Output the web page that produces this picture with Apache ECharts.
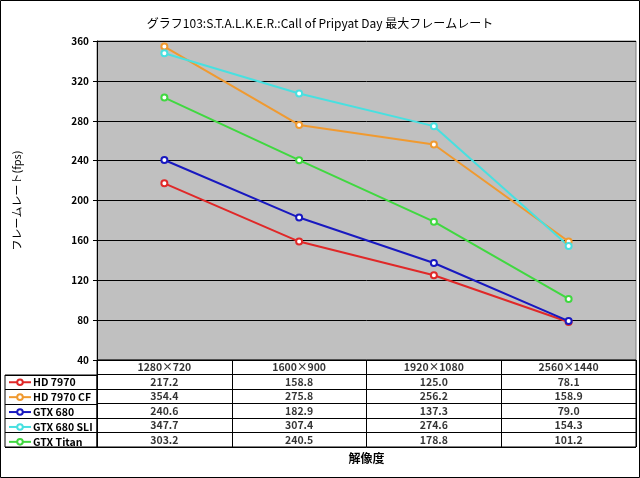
<!DOCTYPE html>
<html><head><meta charset="utf-8">
<script src="https://cdn.jsdelivr.net/npm/echarts@6/dist/echarts.min.js"></script>
<style>html,body{margin:0;padding:0;background:#fff}#c{width:640px;height:478px}</style>
</head><body><div id="c"></div>
<script>
var categories = ['1280×720', '1600×900', '1920×1080', '2560×1440'];
var seriesNames = ['HD 7970', 'HD 7970 CF', 'GTX 680', 'GTX 680 SLI', 'GTX Titan'];
var hd7970 = [217.2, 158.8, 125.0, 78.1];
var hd7970cf = [354.4, 275.8, 256.2, 158.9];
var gtx680 = [240.6, 182.9, 137.3, 79.0];
var gtx680sli = [347.7, 307.4, 274.6, 154.3];
var gtxTitan = [303.2, 240.5, 178.8, 101.2];
var seriesValues = [hd7970, hd7970cf, gtx680, gtx680sli, gtxTitan];
var colors = ['#e02828', '#f09a30', '#1818c0', '#48e0e0', '#40d840'];
var yTicks = {min: 40, max: 360, interval: 40};

var FONT = '"Noto Sans CJK JP", "DejaVu Sans", sans-serif';
var rowNames = ['__header'].concat(seriesNames);

var tableData = [];
categories.forEach(function (c) { tableData.push({value: [c, '__header'], text: c}); });
seriesNames.forEach(function (n, si) {
  categories.forEach(function (c, ci) {
    tableData.push({value: [c, n], text: seriesValues[si][ci].toFixed(1)});
  });
});

var series = seriesNames.map(function (n, i) {
  return {
    name: n, type: 'line', xAxisIndex: 0, yAxisIndex: 0,
    data: seriesValues[i], symbol: 'emptyCircle', symbolSize: 6,
    lineStyle: {width: 2, color: colors[i]},
    itemStyle: {color: colors[i], borderWidth: 1.5},
    z: 3
  };
});
series.push({
  type: 'scatter', xAxisIndex: 1, yAxisIndex: 1, data: tableData,
  symbolSize: 1, itemStyle: {color: 'rgba(0,0,0,0)'}, silent: true,
  label: {show: true, position: 'inside', color: '#000', fontFamily: FONT, fontSize: 10.5, fontWeight: 'bold',
    formatter: function (p) { return p.data.text; }}
});

var chart = echarts.init(document.getElementById('c'), null, {renderer: 'canvas'});
chart.setOption({
  animation: false,
  backgroundColor: '#fff',
  title: {text: 'グラフ103:S.T.A.L.K.E.R.:Call of Pripyat Day 最大フレームレート', left: 'center', top: 12,
    textStyle: {fontFamily: FONT, fontSize: 12, fontWeight: 'normal', color: '#000'}},
  color: colors,
  legend: {orient: 'vertical', left: 8, top: 377, itemWidth: 22, itemHeight: 7, itemGap: 4.4, padding: 0,
    data: seriesNames, selectedMode: false,
    textStyle: {fontFamily: FONT, fontSize: 10.5, fontWeight: 'bold', color: '#000', lineHeight: 10, padding: [0, 0, 0, -3]}},
  grid: [
    {left: 97, right: 4, top: 41, height: 319, show: true, backgroundColor: '#c0c0c0', borderColor: '#808080', borderWidth: 1},
    {left: 97, right: 4, top: 360, height: 87, show: true, backgroundColor: 'rgba(0,0,0,0)', borderColor: '#000', borderWidth: 1},
    {left: 5, width: 92, top: 375, height: 72, show: true, backgroundColor: 'rgba(0,0,0,0)', borderColor: '#000', borderWidth: 1}
  ],
  xAxis: [
    {type: 'category', gridIndex: 0, data: categories, boundaryGap: true,
      axisLine: {show: false}, axisTick: {show: false}, axisLabel: {show: false}, splitLine: {show: false}},
    {type: 'category', gridIndex: 1, data: categories, boundaryGap: true,
      axisLine: {show: false}, axisTick: {show: false}, axisLabel: {show: false},
      splitLine: {show: true, interval: 0, lineStyle: {color: '#000', width: 1}},
      name: '解像度', nameLocation: 'middle', nameGap: 5,
      nameTextStyle: {fontFamily: FONT, fontSize: 12, fontWeight: 'bold', color: '#000', verticalAlign: 'top'}},
    {type: 'value', gridIndex: 2, show: false}
  ],
  yAxis: [
    {type: 'value', gridIndex: 0, min: yTicks.min, max: yTicks.max, interval: yTicks.interval,
      axisLine: {show: true, lineStyle: {color: '#000', width: 1}},
      axisTick: {show: true, length: 4, lineStyle: {color: '#000'}},
      axisLabel: {margin: 8, fontFamily: FONT, fontSize: 10, fontWeight: 'bold', color: '#000'},
      splitLine: {show: true, lineStyle: {color: '#000', width: 1}},
      name: 'フレームレート(fps)', nameLocation: 'middle', nameRotate: 90, nameGap: 75,
      nameTextStyle: {fontFamily: FONT, fontSize: 11, color: '#000'}},
    {type: 'category', gridIndex: 1, data: rowNames, inverse: true,
      axisLine: {show: false}, axisTick: {show: false}, axisLabel: {show: false},
      splitLine: {show: true, interval: 0, lineStyle: {color: '#000', width: 1}}},
    {type: 'category', gridIndex: 2, data: seriesNames, inverse: true, boundaryGap: true,
      axisLine: {show: false}, axisTick: {show: false}, axisLabel: {show: false},
      splitLine: {show: true, interval: 0, lineStyle: {color: '#000', width: 1}}}
  ],
  graphic: [{type: 'rect', shape: {x: 0.5, y: 0.5, width: 639, height: 477}, style: {fill: 'none', stroke: '#000', lineWidth: 1}, silent: true}],
  series: series
});
</script></body></html>
